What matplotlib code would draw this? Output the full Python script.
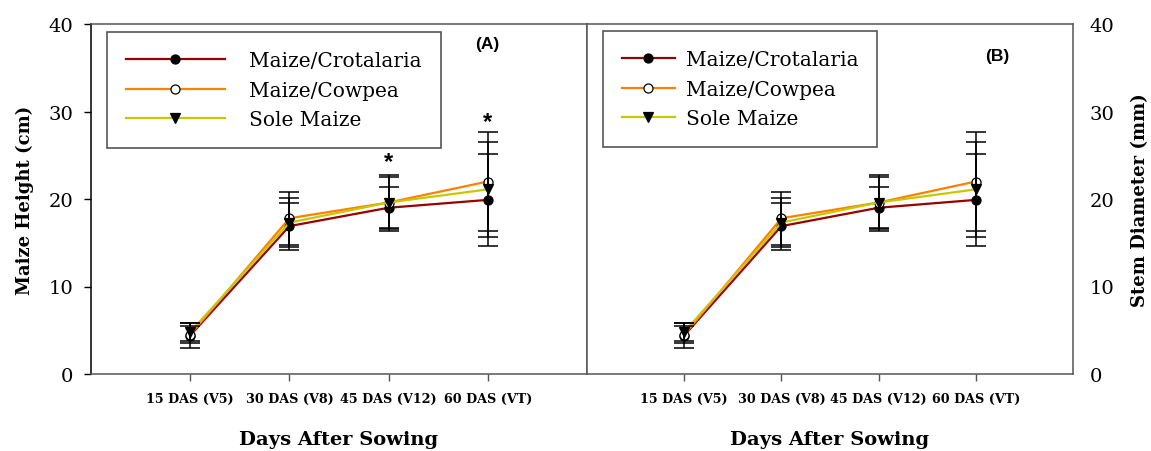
import matplotlib
matplotlib.use("Agg")
import matplotlib.pyplot as plt
import numpy as np

# ---- data ----
stages = ["15 DAS (V5)", "30 DAS (V8)", "45 DAS (V12)", "60 DAS (VT)"]
series_names = ["Maize/Crotalaria", "Maize/Cowpea", "Sole Maize"]

crotalaria = [4.4, 16.9, 19.0, 19.9]
crotalaria_err = [1.4, 2.7, 2.4, 5.3]
cowpea = [4.5, 17.8, 19.6, 22.0]
cowpea_err = [1.0, 3.0, 3.2, 5.7]
sole = [4.8, 17.3, 19.6, 21.1]
sole_err = [1.0, 2.8, 2.9, 5.4]

# panel B (stem diameter) values
b_crotalaria = [4.4, 16.9, 19.0, 19.9]
b_crotalaria_err = [1.4, 2.7, 2.4, 5.3]
b_cowpea = [4.5, 17.8, 19.6, 22.0]
b_cowpea_err = [1.0, 3.0, 3.2, 5.7]
b_sole = [4.8, 17.3, 19.6, 21.1]
b_sole_err = [1.0, 2.8, 2.9, 5.4]

signif_a = [(3, 24.3), (4, 28.9)]  # asterisk positions (stage index, y)

colors = ["#990000", "#FF8000", "#C8C800"]
markers = ["o", "o", "v"]
mfc = ["black", "white", "black"]

SERIF = "DejaVu Serif"
SPINE = "#555555"

fig = plt.figure(figsize=(11.51, 4.52), dpi=100)
axA = fig.add_axes([91/1151, 77/452, 496/1151, 350/452])
axB = fig.add_axes([587/1151, 77/452, 486/1151, 350/452])

def draw(ax, data):
    x = np.arange(1, len(stages) + 1)
    handles = []
    for (vals, errs), c, m, fc, name in zip(data, colors, markers, mfc, series_names):
        ln, = ax.plot(x, vals, color=c, lw=1.6, marker=m, markersize=6.5,
                      markerfacecolor=fc, markeredgecolor="black",
                      markeredgewidth=0.9, label=name, zorder=3)
        ax.errorbar(x, vals, yerr=errs, fmt="none", ecolor="black",
                    elinewidth=1.1, capsize=7, capthick=1.1, zorder=4)
        handles.append(ln)
    ax.set_xlim(0, 5)
    ax.set_ylim(0, 40)
    ax.set_xticks(x)
    ax.set_xticklabels(stages, fontfamily=SERIF, fontweight="bold", fontsize=9.2)
    ax.set_yticks([0, 10, 20, 30, 40])
    for s in ax.spines.values():
        s.set_color(SPINE)
        s.set_linewidth(1.1)
    ax.tick_params(axis="x", direction="out", length=5, width=1, color=SPINE, pad=8)
    ax.set_xlabel("Days After Sowing", fontfamily=SERIF, fontweight="bold",
                  fontsize=14, labelpad=18)
    return handles

hA = draw(axA, [(crotalaria, crotalaria_err), (cowpea, cowpea_err), (sole, sole_err)])
hB = draw(axB, [(b_crotalaria, b_crotalaria_err), (b_cowpea, b_cowpea_err), (b_sole, b_sole_err)])

axA.spines["left"].set_color("black")
axA.tick_params(axis="y", direction="out", length=5, width=1, color="black", pad=8,
                labelsize=14)
for lab in axA.get_yticklabels():
    lab.set_fontfamily(SERIF)
axA.set_ylabel("Maize Height (cm)", fontfamily=SERIF, fontweight="bold", fontsize=13,
               labelpad=10)

axB.yaxis.tick_right()
axB.yaxis.set_label_position("right")
axB.tick_params(axis="y", left=False, right=True, length=0, pad=12, labelsize=14)
for lab in axB.get_yticklabels():
    lab.set_fontfamily(SERIF)
axB.set_ylabel("Stem Diameter (mm)", fontfamily=SERIF, fontweight="bold", fontsize=13,
               rotation=90, labelpad=12)

for xi, yi in signif_a:
    axA.text(xi, yi, "*", ha="center", va="center", fontsize=17, fontweight="bold",
             fontfamily="Liberation Sans")

axA.text(0.798, 0.943, "(A)", transform=axA.transAxes, ha="center", va="center",
         fontsize=12.5, fontweight="bold", fontfamily="Liberation Sans")
axB.text(0.844, 0.911, "(B)", transform=axB.transAxes, ha="center", va="center",
         fontsize=12.5, fontweight="bold", fontfamily="Liberation Sans")

legA = axA.legend(handles=hA, loc="upper left", bbox_to_anchor=(0.032, 0.977),
                  fancybox=False, edgecolor=SPINE, framealpha=1,
                  prop={"family": SERIF, "size": 14.5},
                  handlelength=4.9, handletextpad=1.2, labelspacing=0.52,
                  borderpad=0.95, borderaxespad=0)
legA.get_frame().set_linewidth(1.2)

legB = axB.legend(handles=hB, loc="upper left", bbox_to_anchor=(0.033, 0.98),
                  fancybox=False, edgecolor=SPINE, framealpha=1,
                  prop={"family": SERIF, "size": 14.5},
                  handlelength=2.6, handletextpad=0.55, labelspacing=0.52,
                  borderpad=0.95, borderaxespad=0)
legB.get_frame().set_linewidth(1.2)

fig.savefig("out.png", dpi=100)
